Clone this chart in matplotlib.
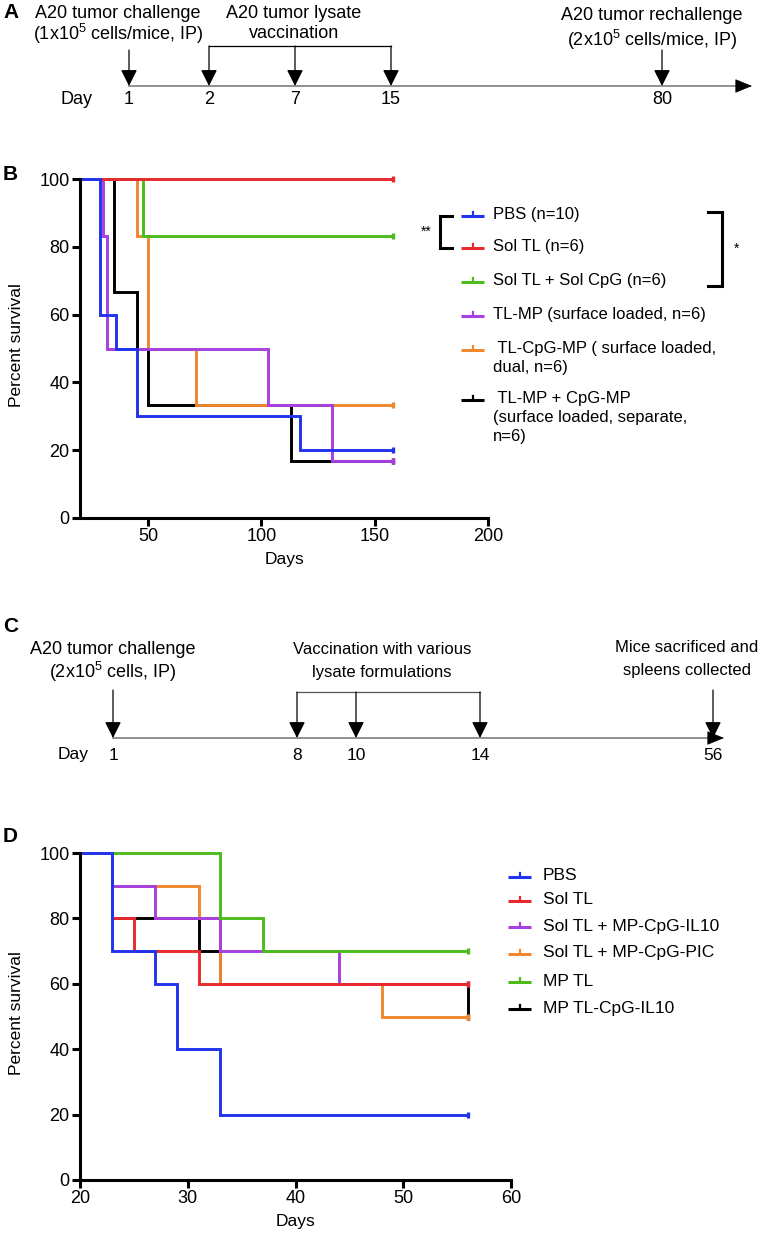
import matplotlib
matplotlib.use("Agg")
import matplotlib.pyplot as plt

plt.rcParams["font.family"] = ["Liberation Sans", "DejaVu Sans"]
plt.rcParams["mathtext.fontset"] = "custom"
plt.rcParams["mathtext.rm"] = "Liberation Sans"
plt.rcParams["mathtext.it"] = "Liberation Sans"

NARROW = ["Liberation Sans Narrow", "Liberation Sans", "DejaVu Sans"]

# ---- panel A timeline ----
a_days = ["1", "2", "7", "15", "80"]

# ---- panel B survival (days, percent) ----
b_labels = [
    "PBS (n=10)",
    "Sol TL (n=6)",
    "Sol TL + Sol CpG (n=6)",
    "TL-MP (surface loaded, n=6)",
    " TL-CpG-MP ( surface loaded,\ndual, n=6)",
    " TL-MP + CpG-MP\n(surface loaded, separate,\nn=6)",
]
b_colors = ["#2233ee", "#e8292d", "#4cbb1c", "#a83fe0", "#f0862e", "#000000"]
b_zorder = [6, 5, 3, 4, 2, 1]
b_days = [
    [0, 29, 36, 45, 117, 158],
    [0, 158],
    [0, 48, 158],
    [0, 30, 32, 103, 131, 158],
    [0, 45, 50, 71, 158],
    [0, 35, 45, 50, 113, 158],
]
b_surv = [
    [100, 60, 50, 30, 20, 20],
    [100, 100],
    [100, 83.3, 83.3],
    [100, 83.3, 50, 33.3, 16.7, 16.7],
    [100, 83.3, 50, 33.3, 33.3],
    [100, 66.7, 50, 33.3, 16.7, 16.7],
]

# ---- panel C timeline ----
c_days = ["1", "8", "10", "14", "56"]

# ---- panel D survival ----
d_labels = [
    "PBS",
    "Sol TL",
    "Sol TL + MP-CpG-IL10",
    "Sol TL + MP-CpG-PIC",
    "MP TL",
    "MP TL-CpG-IL10",
]
d_colors = ["#2233ee", "#e8292d", "#a83fe0", "#f0862e", "#4cbb1c", "#000000"]
d_zorder = [6, 4, 3, 2, 5, 1]
d_days = [
    [0, 23, 27, 29, 33, 56],
    [0, 23, 25, 31, 56],
    [0, 23, 27, 33, 44, 56],
    [0, 23, 31, 33, 48, 56],
    [0, 33, 37, 56],
    [0, 23, 31, 33, 56],
]
d_surv = [
    [100, 70, 60, 40, 20, 20],
    [100, 80, 70, 60, 60],
    [100, 90, 80, 70, 60, 60],
    [100, 90, 80, 60, 50, 50],
    [100, 80, 70, 70],
    [100, 80, 70, 60, 50],
]

W, H = 769, 1235
fig = plt.figure(figsize=(W / 100, H / 100), dpi=100)

# overlay in pixel coordinates for the schematics, letters and legends
ov = fig.add_axes([0, 0, 1, 1])
ov.set_xlim(0, W)
ov.set_ylim(H, 0)
ov.axis("off")
ov.set_zorder(10)


def px_axes(x0, x1, y_top, y_bot):
    return fig.add_axes([x0 / W, 1 - y_bot / H, (x1 - x0) / W, (y_bot - y_top) / H])


def down_arrow(x, y0, y1):
    ov.annotate("", xy=(x, y1), xytext=(x, y0),
                arrowprops=dict(arrowstyle="-|>,head_length=1.0,head_width=0.5",
                                lw=0.9, color="black", shrinkA=0, shrinkB=0))


def timeline(x0, x1, y):
    ov.plot([x0, x1 - 12], [y, y], color="#888888", lw=1.3)
    ov.annotate("", xy=(x1, y), xytext=(x1 - 14, y),
                arrowprops=dict(arrowstyle="-|>,head_length=1.1,head_width=0.45",
                                lw=0.5, color="black", shrinkA=0, shrinkB=0))


def survival_axes(ax, days, surv, colors, zorders, xlim, xticks):
    for t, s, c, z in zip(days, surv, colors, zorders):
        ax.plot(t, s, drawstyle="steps-post", color=c, lw=2.1, zorder=z,
                solid_joinstyle="miter")
        ax.plot(t[-1], s[-1], marker="|", ms=4.5, mew=2.4, color=c, zorder=z,
                clip_on=False)
    ax.set_xlim(*xlim)
    ax.set_ylim(0, 102)
    ax.spines["left"].set_bounds(0, 100)
    for side in ["top", "right"]:
        ax.spines[side].set_visible(False)
    for side in ["left", "bottom"]:
        ax.spines[side].set_linewidth(2.2)
        ax.spines[side].set_zorder(7)
    ax.set_yticks(range(0, 101, 20))
    ax.set_xticks(xticks)
    ax.tick_params(direction="out", length=6, width=2.2, labelsize=13, pad=1.5)
    ax.set_xlabel("Days", fontsize=12.5, labelpad=5)
    ax.set_ylabel("Percent survival", fontsize=12.5, labelpad=11)
    ax.patch.set_alpha(0)


def legend_rows(labels, colors, rows, hx0, hx1, tx, fs):
    for lab, c, y in zip(labels, colors, rows):
        ov.plot([hx0, hx1], [y, y], color=c, lw=2.2, solid_capstyle="butt")
        xm = (hx0 + hx1) / 2
        ov.plot([xm, xm], [y, y - 4], color=c, lw=1.6)
        ov.text(tx, y - 8.5, lab, fontsize=fs, va="top", ha="left",
                linespacing=1.3)


# ---------------- Panel A ----------------
ov.text(3, 13, "A", fontsize=15, fontweight="bold", va="center", ha="left")
a_x = [129, 209, 295, 391, 662]
a_line_y = 86
timeline(a_x[0], 752, a_line_y)
ov.text(118, 13, "A20 tumor challenge", family=NARROW, fontsize=13,
        ha="center", va="center")
ov.text(118, 34, "(1x10$^5$ cells/mice, IP)", family=NARROW, fontsize=13,
        ha="center", va="center")
ov.text(294, 13, "A20 tumor lysate", family=NARROW, fontsize=13,
        ha="center", va="center")
ov.text(294, 33, "vaccination", family=NARROW, fontsize=13,
        ha="center", va="center")
ov.text(652, 15, "A20 tumor rechallenge", family=NARROW, fontsize=13,
        ha="center", va="center")
ov.text(652, 40, "(2x10$^5$ cells/mice, IP)", family=NARROW, fontsize=13,
        ha="center", va="center")
down_arrow(a_x[0], 50, a_line_y)
down_arrow(a_x[4], 50, a_line_y)
ov.plot([a_x[1], a_x[3]], [46, 46], color="black", lw=0.9)
for x in a_x[1:4]:
    down_arrow(x, 46, a_line_y)
ov.text(76, 99, "Day", family=NARROW, fontsize=13, ha="center", va="center")
for d, x in zip(a_days, a_x):
    ov.text(x, 99, d, family=NARROW, fontsize=13, ha="center", va="center")

# ---------------- Panel B ----------------
ov.text(3, 175, "B", fontsize=15, fontweight="bold", va="center", ha="left")
b_px_per = (518 - 179) / 100
ax_b = px_axes(80, 488, 518 - 102 * b_px_per, 518)
survival_axes(ax_b, b_days, b_surv, b_colors, b_zorder, (20, 200),
              [50, 100, 150, 200])
b_rows = [216, 248, 282, 316, 350, 400]
legend_rows(b_labels, b_colors, b_rows, 461, 484, 493, 12)
# significance brackets
ov.plot([452, 440, 440, 452], [b_rows[0], b_rows[0], b_rows[1], b_rows[1]],
        color="black", lw=2.2, solid_joinstyle="miter")
ov.text(432, (b_rows[0] + b_rows[1]) / 2, "**", fontsize=10, ha="right",
        va="center")
ov.plot([708, 722, 722, 708], [b_rows[0] - 4, b_rows[0] - 4, b_rows[2] + 4,
                               b_rows[2] + 4],
        color="black", lw=2.2, solid_joinstyle="miter")
ov.text(737, (b_rows[0] + b_rows[2]) / 2, "*", fontsize=10, ha="center",
        va="center")

# ---------------- Panel C ----------------
ov.text(3, 627, "C", fontsize=15, fontweight="bold", va="center", ha="left")
c_x = [113, 297, 356, 480, 713]
c_line_y = 738
timeline(c_x[0], 724, c_line_y)
ov.text(113, 650, "A20 tumor challenge", family=NARROW, fontsize=13,
        ha="center", va="center")
ov.text(113, 672, "(2x10$^5$ cells, IP)", family=NARROW, fontsize=13,
        ha="center", va="center")
ov.text(382, 650, "Vaccination with various", fontsize=12, ha="center",
        va="center")
ov.text(382, 672, "lysate formulations", fontsize=12, ha="center", va="center")
ov.text(687, 648, "Mice sacrificed and", fontsize=12, ha="center", va="center")
ov.text(687, 670, "spleens collected", fontsize=12, ha="center", va="center")
down_arrow(c_x[0], 690, c_line_y)
down_arrow(c_x[4], 690, c_line_y)
ov.plot([c_x[1], c_x[3]], [692, 692], color="#555555", lw=0.9)
for x in c_x[1:4]:
    down_arrow(x, 692, c_line_y)
ov.text(73, 755, "Day", fontsize=12.5, ha="center", va="center")
for d, x in zip(c_days, c_x):
    ov.text(x, 755, d, fontsize=12.5, ha="center", va="center")

# ---------------- Panel D ----------------
ov.text(3, 837, "D", fontsize=15, fontweight="bold", va="center", ha="left")
d_px_per = (1180 - 853) / 100
ax_d = px_axes(80, 511, 1180 - 102 * d_px_per, 1180)
survival_axes(ax_d, d_days, d_surv, d_colors, d_zorder, (20, 60),
              [20, 30, 40, 50, 60])
d_rows = [877, 901, 927, 954, 982, 1009]
legend_rows(d_labels, d_colors, d_rows, 508, 531, 543, 12.5)

fig.savefig("out.png", dpi=100)
